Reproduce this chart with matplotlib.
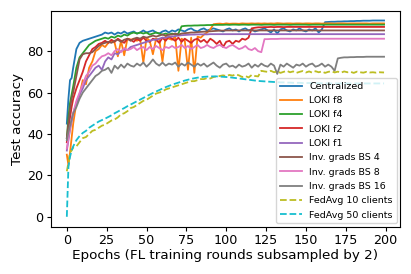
import matplotlib
matplotlib.use("Agg")
import matplotlib.pyplot as plt

# Epoch positions (x values shared by all series)
epochs = [0, 1, 2, 3, 4] + list(range(6, 198, 2)) + [199]

centralized = [45, 57, 66, 67, 72,
    81, 84, 85, 85.5, 86, 86.5, 87, 87.5, 88, 89,
    88.5, 89, 88, 89, 88.5, 89.5, 88.5, 89, 89.5, 88.5,
    89, 90, 89, 89.5, 90, 89, 88.5, 89.5, 90, 89,
    90, 89.5, 90.5, 90, 89.5, 90.5, 91, 90, 89.5, 90.5,
    91, 90, 90.5, 91, 90.5, 90, 89.5, 90.5, 91, 90,
    90.5, 89.5, 90.5, 91, 90, 90.5, 89.5, 90, 90.5, 91,
    90, 89, 90.5, 88.5, 90.5, 91, 90, 89.5, 90.5, 90,
    91, 90, 89.5, 90.5, 90, 91, 89, 90.5, 94, 94.1,
    94.2, 94.2, 94.3, 94.3, 94.4, 94.4, 94.5, 94.5, 94.6, 94.6,
    94.7, 94.7, 94.7, 94.8, 94.8, 94.8, 94.8]

loki_f8 = [30, 25, 31, 38, 45,
    55, 59, 66, 64, 72, 75, 80, 81, 83, 82,
    84, 85, 84, 77.5, 85, 78, 86, 85.5, 86, 85,
    86, 74.5, 86.5, 85, 78.5, 86, 85.5, 75, 87, 86,
    85.5, 87, 70.5, 86, 85, 71, 86.5, 69.5, 87, 86.5,
    88, 89, 90.5, 93, 93.2, 93.3, 93.1, 93.4, 93.2, 93.3,
    93.3, 93.2, 93.4, 93.3, 93.3, 93.4, 93.3, 93.4, 93.3, 93.4,
    93.3, 93.4, 93.3, 93.5, 93.4, 93.3, 93.4, 93.4, 93.3, 93.4,
    93.4, 93.3, 93.4, 93.4, 93.3, 93.4, 93.4, 93.3, 93.4, 93.4,
    93.4, 93.3, 93.4, 93.4, 93.4, 93.3, 93.4, 93.4, 93.4, 93.4,
    93.4, 93.4, 93.3, 93.4, 93.4, 93.4, 93.4]

loki_f4 = [38, 48, 55, 59, 63,
    72, 77, 79, 81, 83, 84, 85, 85.5, 86, 86.5,
    86, 87, 86.5, 87.5, 87, 88, 87.5, 88.5, 89, 88.5,
    89, 88.5, 89, 88, 88.5, 89, 88.5, 88, 88.5, 88,
    88.5, 88, 88.5, 92, 92.2, 92.3, 92.3, 92.4, 92.4, 92.5,
    92.5, 92.6, 92.6, 92.7, 92.7, 92.7, 92.7, 92.8, 92.7, 92.8,
    92.8, 92.7, 92.8, 92.8, 92.7, 92.8, 92.8, 92.8, 92.7, 92.8,
    92.8, 92.8, 92.7, 92.8, 92.8, 92.8, 92.8, 92.7, 92.8, 92.8,
    92.8, 92.8, 92.8, 92.7, 92.8, 92.8, 92.8, 92.8, 92.8, 92.8,
    92.8, 92.8, 92.8, 92.8, 92.8, 92.8, 92.8, 92.8, 92.8, 92.8,
    92.8, 92.8, 92.8, 92.8, 92.8, 92.8, 92.8]

loki_f2 = [36, 42, 48, 53, 57,
    62, 66, 70, 75, 78, 81, 82, 83.5, 84, 85,
    84, 85.5, 84.5, 86, 85, 84, 86, 85.5, 84.5, 86,
    85, 86.5, 85, 84.5, 86, 85.5, 84, 86.5, 85, 87,
    86, 85, 86.5, 84.5, 86, 85, 84, 85.5, 86, 84.5,
    85.5, 84, 86, 85, 83.5, 85, 82, 84.5, 85, 83.5,
    85, 84.5, 86, 85.5, 86.5, 91, 91.3, 91.5, 91.5, 91.6,
    91.6, 91.7, 91.6, 91.7, 91.7, 91.6, 91.7, 91.7, 91.7, 91.7,
    91.7, 91.7, 91.7, 91.7, 91.7, 91.7, 91.7, 91.7, 91.7, 91.7,
    91.7, 91.7, 91.7, 91.7, 91.7, 91.7, 91.7, 91.7, 91.7, 91.7,
    91.7, 91.7, 91.7, 91.7, 91.7, 91.7, 91.7]

loki_f1 = [32, 37, 42, 46, 50,
    55, 59, 62, 66, 68, 70, 72, 73, 71, 75,
    77, 76, 79, 78.5, 80, 81, 80.5, 82, 82.5, 83,
    83.5, 84, 84.5, 85, 85.5, 85.5, 86, 86.5, 86.5, 87,
    87, 87.3, 87.5, 87.7, 87.8, 87.9, 88, 88, 88.1, 88.1,
    88.1, 88.1, 88.2, 88.2, 88.2, 88.2, 88.2, 88.2, 88.2, 88.2,
    88.2, 88.2, 88.2, 88.2, 88.2, 88.2, 88.2, 88.2, 88.2, 88.2,
    88.2, 88.2, 88.2, 88.2, 88.2, 88.2, 88.2, 88.2, 88.2, 88.2,
    88.2, 88.2, 88.2, 88.2, 88.2, 88.2, 88.2, 88.2, 88.2, 88.2,
    88.2, 88.2, 88.2, 88.2, 88.2, 88.2, 88.2, 88.2, 88.2, 88.2,
    88.2, 88.2, 88.2, 88.2, 88.2, 88.2, 88.2]

inv_bs4 = [38, 45, 52, 57, 60,
    68, 76, 78.5, 79, 79, 79.5, 81, 82.5, 83.5, 84,
    84.5, 84, 85, 85.5, 84.5, 85.5, 86, 85, 86, 86.5,
    86, 87, 86.5, 87, 87.5, 87, 87.5, 88, 87.5, 88,
    88, 88.5, 88, 88.5, 88.7, 88.8, 89, 89, 89.2, 89.3,
    89.4, 89.5, 89.6, 89.7, 89.8, 89.9, 89.9, 90, 90, 90,
    90, 90, 90, 90, 90, 90, 90, 90, 90, 90,
    90, 90, 90, 90, 90, 90, 90, 90, 90, 90,
    90, 90, 90, 90, 90, 90, 90, 90, 90, 90,
    90, 90, 90, 90, 90, 90, 90, 90, 90, 90,
    90, 90, 90, 90, 90, 90, 90]

inv_bs8 = [33, 38, 43, 47, 50,
    56, 60, 64, 68, 70, 73, 74, 76, 77.5, 78,
    79, 78, 80, 81, 79.5, 81.5, 80.5, 81, 82, 80.5,
    81.5, 82, 80.5, 82, 81, 82.5, 81.5, 80.5, 82, 81.5,
    82.5, 81.5, 82, 83, 81.5, 82.5, 81, 82, 83, 81.5,
    82, 83, 82, 81.5, 82.5, 83, 82, 81.5, 82.5, 83,
    82, 81, 81.5, 82.5, 81, 80.5, 81.5, 80, 79.5, 85.8,
    85.8, 85.9, 85.9, 85.9, 86, 86, 86, 86, 86, 86,
    86, 86, 86, 86, 86, 86, 86, 86, 86, 86,
    86, 86, 86, 86, 86, 86, 86, 86, 86, 86,
    86, 86, 86, 86, 86, 86, 86]

inv_bs16 = [37, 41, 44, 47, 50,
    53, 57, 60, 62, 64, 66, 68, 69, 70.5, 71,
    72, 69.5, 73, 71.5, 73.5, 72, 74, 73, 72.5, 74,
    73, 74.5, 72.5, 74, 76, 74, 73, 74.5, 73, 74,
    73.5, 74.5, 72.5, 74, 73, 74.5, 73.5, 72.5, 74, 73,
    74, 72.5, 73.5, 74.5, 73, 72, 73.5, 74, 72.5, 73,
    72, 73.5, 72.5, 73, 74, 72, 73.5, 72.5, 74, 73,
    72.5, 74, 73, 69, 73.5, 72.5, 74, 73, 72, 73.5,
    73, 74, 72.5, 73.5, 74, 72.5, 73, 74, 72.5, 73.5,
    72.5, 70.5, 76.5, 76.8, 77, 77, 77.1, 77.1, 77.2, 77.2,
    77.2, 77.3, 77.3, 77.3, 77.3, 77.3, 77.3]

fedavg_10 = [22, 26, 31, 32, 33.5,
    34, 36, 38, 38.5, 40, 41.5, 42, 43, 44, 44.5,
    45.5, 46.5, 47, 48, 49.5, 50, 51, 52.5, 53, 54,
    55, 56, 56.5, 57.5, 58.5, 59.5, 60, 60.5, 61.5, 62,
    62.5, 63, 63.5, 64, 64.5, 65, 65.5, 65.5, 66, 66.5,
    66.5, 67, 66.8, 67.5, 67.8, 68, 68.3, 68, 68.5, 68.2,
    68.8, 68.3, 67.5, 68, 67.3, 68.5, 68, 67.8, 70.5, 70.2,
    70, 70.5, 69.8, 70.3, 69.5, 70, 70.5, 69.8, 70.2, 69.5,
    70, 70.4, 69.7, 70.2, 69.6, 70.3, 69.8, 70.2, 69.5, 70,
    70.3, 69.7, 70.1, 69.6, 70.2, 69.8, 70, 69.5, 70.1, 69.8,
    69.6, 70, 69.7, 69.8, 69.6, 69.8, 69.7]

fedavg_50 = [0, 24, 29, 32, 34,
    37, 39, 40.5, 41.5, 43, 44, 45, 46, 46.7, 47.4,
    48.2, 49, 50, 50.8, 51.7, 52.5, 53.4, 54.2, 55, 55.8,
    56.6, 57.4, 58.2, 59, 59.8, 60.5, 61.2, 61.9, 62.6, 63.2,
    63.8, 64.3, 64.8, 65.3, 65.8, 66.2, 66.6, 66.9, 67.2, 67.4,
    67.6, 67.7, 67.8, 67.8, 67.8, 67.7, 67.6, 67.5, 67.4, 67.2,
    67, 66.8, 66.6, 66.4, 66.2, 66, 65.8, 65.6, 65.5, 65.4,
    65.3, 65.2, 65.1, 65, 64.9, 64.9, 64.8, 64.8, 64.7, 64.7,
    64.7, 64.6, 64.6, 64.6, 64.5, 64.5, 64.5, 64.5, 64.5, 64.4,
    64.4, 64.4, 64.4, 64.4, 64.4, 64.4, 64.4, 64.4, 64.4, 64.4,
    64.4, 64.4, 64.4, 64.4, 64.4, 64.4, 64.4]

series = [
    ("Centralized", centralized, "-"),
    ("LOKI f8", loki_f8, "-"),
    ("LOKI f4", loki_f4, "-"),
    ("LOKI f2", loki_f2, "-"),
    ("LOKI f1", loki_f1, "-"),
    ("Inv. grads BS 4", inv_bs4, "-"),
    ("Inv. grads BS 8", inv_bs8, "-"),
    ("Inv. grads BS 16", inv_bs16, "-"),
    ("FedAvg 10 clients", fedavg_10, "--"),
    ("FedAvg 50 clients", fedavg_50, "--"),
]

fig = plt.figure(figsize=(4.11, 2.74), dpi=100)
ax = fig.add_axes([0.124, 0.173, 0.849, 0.788])
for label, vals, ls in series:
    ax.plot(epochs, vals, ls, lw=1.3, label=label)

ax.set_xticks([0, 25, 50, 75, 100, 125, 150, 175, 200])
ax.set_yticks([0, 20, 40, 60, 80])
ax.tick_params(labelsize=9.2, length=3, width=0.8, pad=2.5)
ax.set_xlabel("Epochs (FL training rounds subsampled by 2)", fontsize=9.7, labelpad=1)
ax.set_ylabel("Test accuracy", fontsize=9.7, labelpad=2)
ax.legend(loc="lower right", fontsize=6.8, handlelength=2.3, labelspacing=0.56,
          borderaxespad=0.35)
fig.savefig("out.png", dpi=100)
